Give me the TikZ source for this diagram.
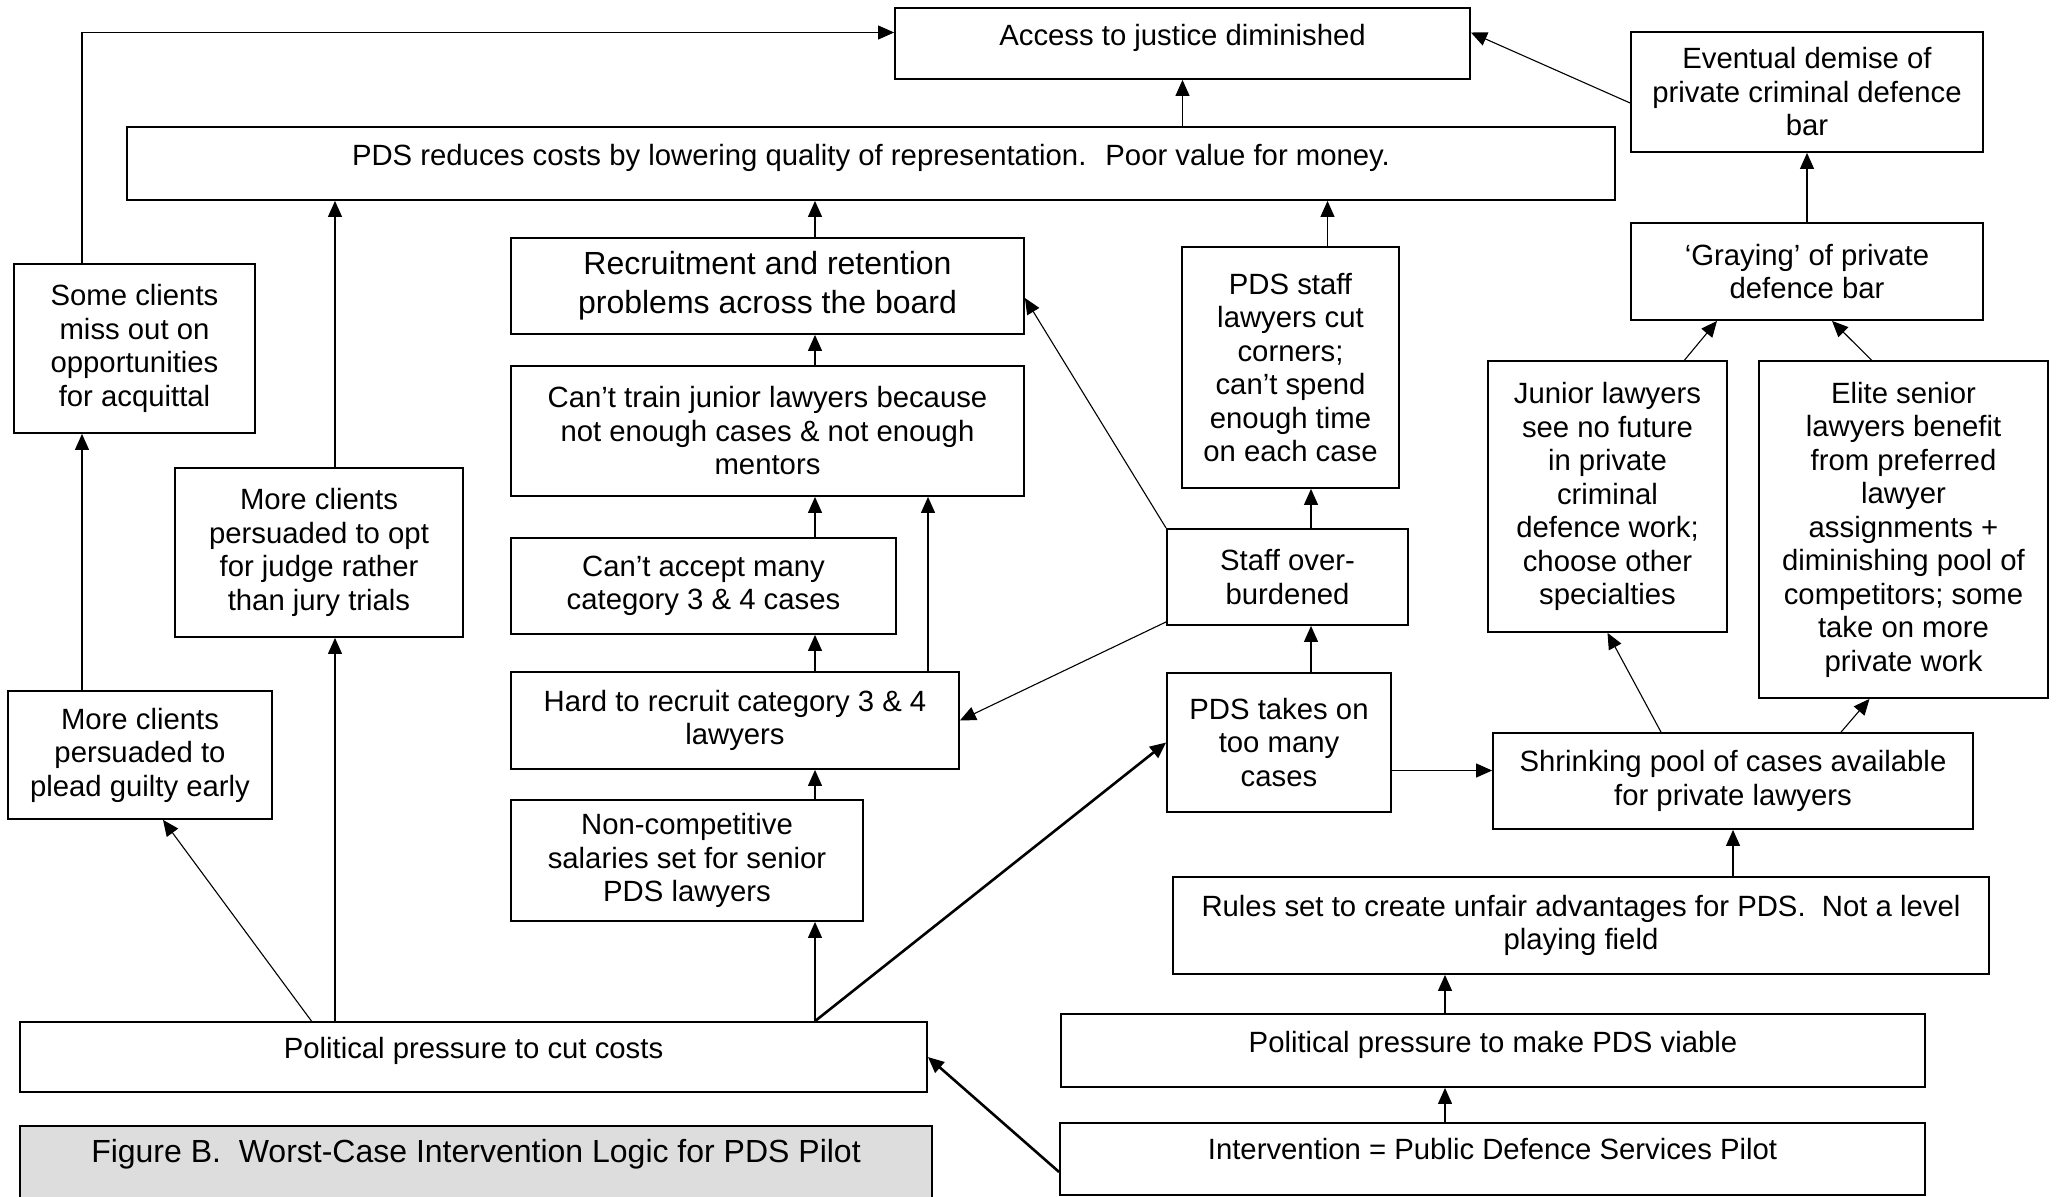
\documentclass[tikz,border=0pt]{standalone}
\usepackage{fontspec}
\setmainfont{Liberation Sans}
\usepackage{xcolor}
\usepackage{tikz}
\usetikzlibrary{arrows.meta, positioning, calc}
\definecolor{capgray}{RGB}{221,221,221}
\newcommand{\diagfont}{\fontsize{29.3}{33.5}\selectfont}
\newcommand{\bigdiagfont}{\fontsize{32}{39}\selectfont}

\begin{document}
\begin{tikzpicture}[
        x=1pt, y=-1pt,
        box/.style={draw, line width=1.8pt, align=center, inner sep=0pt, font=\diagfont},
        oneline/.style={box, text depth=18pt},
        arr/.style={-{Triangle[length=16pt, width=14pt]}, line width=1.1pt},
        heavy/.style={arr, line width=2.6pt}
    ]
        \useasboundingbox (0,0) rectangle (2060,1196);

        % Top outcomes
        \node[oneline, minimum width=575pt, minimum height=71pt] (access) at (1182.5,43.5) {Access to justice diminished};
        \node[oneline, minimum width=1488pt, minimum height=73pt] (pds) at (871,163.5) {PDS reduces costs by lowering quality of representation.~ Poor value for money.};
        \node[box, minimum width=352pt, minimum height=120pt] (demise) at (1807,92) {Eventual demise of\\private criminal defence\\bar};
        \node[box, minimum width=352pt, minimum height=97pt] (graying) at (1807,271.5) {‘Graying’ of private\\defence bar};

        % Left side
        \node[box, minimum width=241pt, minimum height=169pt] (acquittal) at (134.5,348.5) {Some clients\\miss out on\\opportunities\\for acquittal};
        \node[box, minimum width=288pt, minimum height=169pt] (judge) at (319,552.5) {More clients\\persuaded to opt\\for judge rather\\than jury trials};
        \node[box, minimum width=264pt, minimum height=128pt] (guilty) at (140,755) {More clients\\persuaded to\\plead guilty early};
        \node[oneline, minimum width=907pt, minimum height=70pt] (cutcosts) at (473.5,1057) {Political pressure to cut costs};

        % Middle column
        \node[box, font=\bigdiagfont, minimum width=513pt, minimum height=96pt] (recruitment) at (767.5,286) {Recruitment and retention\\problems across the board};
        \node[box, minimum width=513pt, minimum height=130pt] (train) at (767.5,431) {Can’t train junior lawyers because\\not enough cases \& not enough\\mentors};
        \node[box, minimum width=385pt, minimum height=96pt] (accept) at (703.5,586) {Can’t accept many\\category 3 \& 4 cases};
        \node[box, minimum width=448pt, minimum height=97pt] (hard) at (735,720.5) {Hard to recruit category 3 \& 4\\lawyers};
        \node[box, minimum width=352pt, minimum height=121pt] (salaries) at (687,860.5) {Non-competitive\\salaries set for senior\\PDS lawyers};

        % PDS workload
        \node[box, minimum width=217pt, minimum height=241pt] (cutcorners) at (1290.5,367.5) {PDS staff\\lawyers cut\\corners;\\can’t spend\\enough time\\on each case};
        \node[box, minimum width=241pt, minimum height=96pt] (overburdened) at (1287.5,577) {Staff over-\\burdened};
        \node[box, minimum width=224pt, minimum height=139pt] (toomany) at (1279,742.5) {PDS takes on\\too many\\cases};

        % Private bar
        \node[box, minimum width=239pt, minimum height=271pt] (junior) at (1607.5,496.5) {Junior lawyers\\see no future\\in private\\criminal\\defence work;\\choose other\\specialties};
        \node[box, minimum width=289pt, minimum height=337pt] (elite) at (1903.5,529.5) {Elite senior\\lawyers benefit\\from preferred\\lawyer\\assignments +\\diminishing pool of\\competitors; some\\take on more\\private work};
        \node[box, minimum width=480pt, minimum height=96pt] (shrinking) at (1733,781) {Shrinking pool of cases available\\for private lawyers};
        \node[box, minimum width=816pt, minimum height=97pt] (rules) at (1581,925.5) {Rules set to create unfair advantages for PDS.~ Not a level\\playing field};
        \node[oneline, minimum width=864pt, minimum height=73pt] (viable) at (1493,1050.5) {Political pressure to make PDS viable};
        \node[oneline, text depth=21pt, minimum width=865pt, minimum height=72pt] (intervention) at (1492.5,1159) {Intervention = Public Defence Services Pilot};

        % Caption
        \filldraw[fill=capgray, line width=1.8pt] (20,1126) rectangle (932,1210);
        \node[font=\bigdiagfont] (caption) at (476,1154) {Figure B.~ Worst-Case Intervention Logic for PDS Pilot};

        % Columns for the straight arrows
        \coordinate (lcol) at (82,0);
        \coordinate (jcol) at (335,0);
        \coordinate (mcol) at (815,0);
        \coordinate (scol) at (1311,0);
        \coordinate (icol) at (1445,0);

        % Arrows
        \draw[arr] (guilty.north -| lcol) -- (acquittal.south -| lcol);
        \draw[arr] (acquittal.north -| lcol) |- ([yshift=11pt]access.west);
        \draw[arr] (cutcosts.north -| jcol) -- (judge.south -| jcol);
        \draw[arr] (judge.north -| jcol) -- (pds.south -| jcol);
        \draw[arr] ([xshift=-162pt]cutcosts.north) -- ([xshift=23pt]guilty.south);
        \foreach \a/\b in {cutcosts/salaries, salaries/hard, hard/accept, accept/train, train/recruitment, recruitment/pds}
            \draw[arr] (\a.north -| mcol) -- (\b.south -| mcol);
        \draw[arr] ([xshift=193pt]hard.north) -- ([xshift=193pt]hard.north |- train.south);
        \draw[heavy] (cutcosts.north -| mcol) -- (toomany.west);
        \draw[heavy] ([yshift=-13pt]intervention.west) -- (cutcosts.east);
        \draw[arr] (pds.north -| access) -- (access.south);
        \draw[arr] ([yshift=-11pt]demise.west) -- ([yshift=11pt]access.east);
        \draw[arr] (graying.north) -- (demise.south);
        \draw[arr] ([xshift=77pt]junior.north) -- ([xshift=-90pt]graying.south);
        \draw[arr] ([xshift=-32pt]elite.north) -- ([xshift=25pt]graying.south);
        \draw[arr] ([xshift=37pt]cutcorners.north) -- ([xshift=37pt]cutcorners.north |- pds.south);
        \draw[arr] (overburdened.north -| scol) -- (cutcorners.south -| scol);
        \draw[arr] (toomany.north -| scol) -- (overburdened.south -| scol);
        \draw[arr] (overburdened.north west) -- ([yshift=-12pt]recruitment.east);
        \draw[arr] ([yshift=4pt]overburdened.south west) -- (hard.east);
        \draw[arr] ([yshift=-28pt]toomany.east) -- ([yshift=-28pt]toomany.east -| shrinking.west);
        \draw[arr] (rules.north -| shrinking) -- (shrinking.south);
        \draw[arr] ([xshift=-72pt]shrinking.north) -- (junior.south);
        \draw[arr] ([xshift=108pt]shrinking.north) -- ([xshift=-34pt]elite.south);
        \draw[arr] (viable.north -| icol) -- (rules.south -| icol);
        \draw[arr] (intervention.north -| icol) -- (viable.south -| icol);
    \end{tikzpicture}
\end{document}
